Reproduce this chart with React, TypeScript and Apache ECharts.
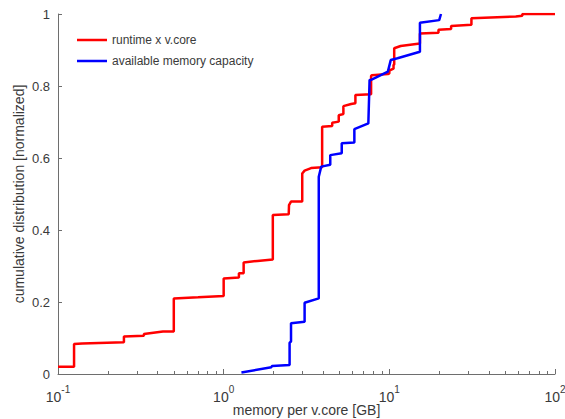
import React, { useEffect, useRef } from "react";
import * as echarts from "echarts";

// runtime x v.core (red) — memory per v.core [GB] vs cumulative distribution
const redMemory = [0.1, 0.125, 0.125, 0.14, 0.25, 0.25, 0.33, 0.33, 0.43, 0.5, 0.5, 0.7, 1.0, 1.0, 1.236, 1.236, 1.32, 1.32, 1.6, 1.98, 1.98, 2.47, 2.48, 2.55, 2.98, 2.98, 3.08, 3.37, 3.93, 3.93, 4.52, 4.52, 4.95, 4.95, 5.28, 5.28, 5.88, 6.24, 6.24, 7.76, 7.76, 7.85, 9.8, 10.0, 10.0, 10.6, 10.6, 10.7, 10.7, 11.7, 15.3, 15.3, 19.8, 19.8, 23.6, 23.6, 31.3, 31.3, 58, 63.5, 63.5, 100];
const redCdf = [0.02, 0.02, 0.083, 0.085, 0.088, 0.104, 0.106, 0.111, 0.118, 0.118, 0.21, 0.213, 0.217, 0.265, 0.268, 0.28, 0.28, 0.31, 0.314, 0.318, 0.442, 0.444, 0.469, 0.479, 0.479, 0.557, 0.565, 0.572, 0.574, 0.687, 0.689, 0.698, 0.701, 0.719, 0.722, 0.744, 0.75, 0.752, 0.775, 0.777, 0.828, 0.83, 0.833, 0.835, 0.843, 0.848, 0.858, 0.86, 0.905, 0.911, 0.918, 0.946, 0.948, 0.956, 0.958, 0.967, 0.97, 0.988, 0.993, 0.995, 1.0, 1.0];

// available memory capacity (blue)
const blueMemory = [1.28, 1.94, 1.96, 2.5, 2.5, 2.55, 2.55, 3.08, 3.08, 3.75, 3.75, 3.88, 4.4, 4.4, 5.16, 5.16, 6.15, 6.15, 7.47, 7.6, 7.76, 8.7, 9.8, 10.2, 11.2, 15.3, 15.3, 20, 20.5];
const blueCdf = [0.004, 0.019, 0.022, 0.025, 0.087, 0.09, 0.141, 0.145, 0.198, 0.21, 0.548, 0.576, 0.581, 0.608, 0.613, 0.641, 0.643, 0.68, 0.696, 0.817, 0.817, 0.828, 0.84, 0.872, 0.877, 0.895, 0.976, 0.983, 1.0];

const seriesNames = ["runtime x v.core", "available memory capacity"];
const xAxisName = "memory per v.core [GB]";
const yAxisName = "cumulative distribution [normalized]";

const zip = (xs: number[], ys: number[]) => xs.map((x, i) => [x, ys[i]]);

export default function App() {
  const ref = useRef<HTMLDivElement>(null);
  useEffect(() => {
    const chart = echarts.init(ref.current!, null, { renderer: "svg" });
    const font = "'Liberation Sans', Arial, sans-serif";
    const textColor = "#3a3a3a";
    const axisColor = "#6e6e6e";
    chart.setOption({
      animation: false,
      backgroundColor: "#ffffff",
      textStyle: { fontFamily: font },
      grid: { left: 58, right: 10, top: 14, bottom: 45, containLabel: false, outerBoundsMode: "none" },
      legend: {
        data: seriesNames.map((n) => ({ name: n, icon: "rect" })),
        orient: "vertical",
        left: 77,
        top: 33,
        padding: 0,
        itemGap: 7,
        itemWidth: 30,
        itemHeight: 2.5,
        textStyle: { fontSize: 12, color: textColor, fontFamily: font, lineHeight: 14 },
      },
      xAxis: {
        type: "log",
        logBase: 10,
        min: 0.1,
        max: 100,
        name: xAxisName,
        nameLocation: "middle",
        nameGap: 29,
        nameMoveOverlap: false,
        nameTextStyle: { color: textColor, fontSize: 14, fontFamily: font },
        axisLine: { show: true, lineStyle: { color: axisColor, width: 1 } },
        axisTick: { show: true, inside: true, length: 5, lineStyle: { color: axisColor } },
        minorTick: { show: true, splitNumber: 9, length: 3, lineStyle: { color: axisColor } },
        splitLine: { show: false },
        minorSplitLine: { show: false },
        axisLabel: {
          margin: 10,
          color: textColor,
          formatter: (v: number) => `{b|10}{s|${Math.round(Math.log10(v))}}`,
          rich: {
            b: { fontSize: 14, color: textColor, fontFamily: font, lineHeight: 20, verticalAlign: "bottom" },
            s: { fontSize: 10, color: textColor, fontFamily: font, lineHeight: 10, verticalAlign: "top" },
          },
        },
      },
      yAxis: {
        type: "value",
        min: 0,
        max: 1,
        interval: 0.2,
        name: yAxisName,
        nameLocation: "middle",
        nameGap: 32,
        nameMoveOverlap: false,
        nameTextStyle: { color: textColor, fontSize: 14, fontFamily: font },
        axisLine: { show: true, lineStyle: { color: axisColor, width: 1 } },
        axisTick: { show: true, inside: true, length: 4, lineStyle: { color: axisColor } },
        splitLine: { show: false },
        axisLabel: {
          margin: 8,
          fontSize: 13,
          color: textColor,
          fontFamily: font,
          formatter: (v: number) => String(+v.toFixed(1)),
        },
      },
      series: [
        {
          name: seriesNames[0],
          type: "line",
          data: zip(redMemory, redCdf),
          symbol: "none",
          lineStyle: { color: "#ff0000", width: 2.5 },
          itemStyle: { color: "#ff0000" },
        },
        {
          name: seriesNames[1],
          type: "line",
          data: zip(blueMemory, blueCdf),
          symbol: "none",
          lineStyle: { color: "#0000ff", width: 2.5 },
          itemStyle: { color: "#0000ff" },
        },
      ],
    });
    return () => chart.dispose();
  }, []);
  return (
    <div
      ref={ref}
      style={{ position: "absolute", left: 0, top: 0, width: 565, height: 419 }}
    />
  );
}
